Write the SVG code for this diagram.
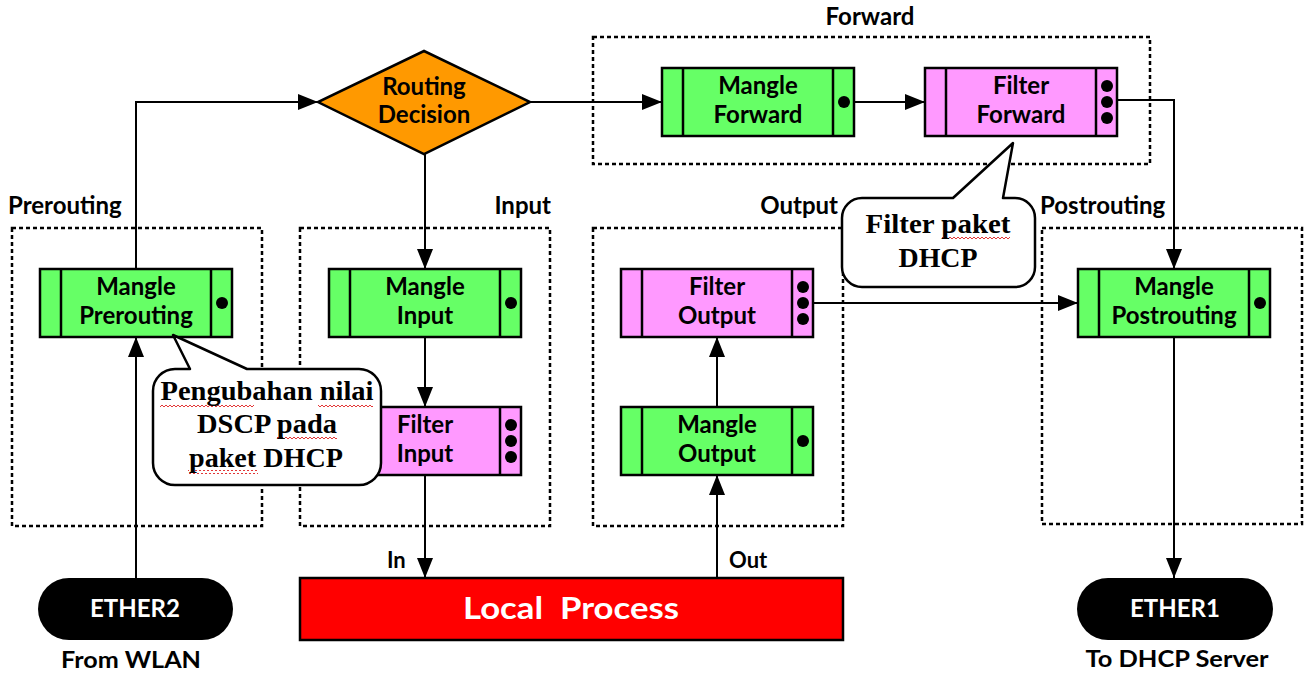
<svg xmlns="http://www.w3.org/2000/svg" width="1306" height="674" viewBox="0 0 1306 674">
  <style>
    .lbl { font-family: Lato, "Open Sans", "Liberation Sans", sans-serif; font-weight: bold; fill: #000; }
    .box-t { font-size: 24px; text-anchor: middle; }
    .sec { font-size: 24px; }
    .chain { stroke: #000; stroke-width: 2.5; }
    .green { fill: #66ff66; }
    .pink { fill: #ff99ff; }
    .inner { stroke: #000; stroke-width: 2.5; }
    .dot { fill: #000; }
    .zone { fill: none; stroke: #000; stroke-width: 2.5; stroke-dasharray: 4 3; }
    .wire { fill: none; stroke: #000; stroke-width: 2; }
    .note { fill: #fff; stroke: #000; stroke-width: 2.5; stroke-linejoin: round; }
    .note-t { font-family: "Liberation Serif", "Times New Roman", serif; font-weight: bold; font-size: 27px; text-anchor: middle; fill: #000; }
    .port { fill: #000; }
    .port-t { font-family: Lato, "Open Sans", "Liberation Sans", sans-serif; font-weight: bold; font-size: 24px; fill: #fff; text-anchor: middle; }
  </style>
  <defs>
    <marker id="arrow" markerUnits="userSpaceOnUse" markerWidth="20" markerHeight="16" refX="20" refY="8" orient="auto">
      <path d="M0,0 L20,8 L0,16 Z" fill="#000"/>
    </marker>
    <pattern id="wave" width="4" height="4" patternUnits="userSpaceOnUse">
      <path d="M0,3 L2,1 L4,3" fill="none" stroke="#e02020" stroke-width="0.9"/>
    </pattern>
  </defs>
  <rect width="1306" height="674" fill="#fff"/>

  <!-- chain zones -->
  <g id="zones">
    <rect class="zone" x="12" y="228" width="250" height="298"/>
    <rect class="zone" x="300" y="228" width="250" height="298"/>
    <rect class="zone" x="593" y="228" width="250" height="298"/>
    <rect class="zone" x="1042" y="228" width="260" height="296"/>
    <rect class="zone" x="593" y="37" width="557" height="127"/>
    <text class="lbl sec" x="870" y="25" text-anchor="middle">Forward</text>
    <text class="lbl sec" x="8" y="214">Prerouting</text>
    <text class="lbl sec" x="551" y="214" text-anchor="end">Input</text>
    <text class="lbl sec" x="838" y="214" text-anchor="end">Output</text>
    <text class="lbl sec" x="1040" y="214">Postrouting</text>
  </g>

  <!-- connectors -->
  <g id="connectors">
    <path class="wire" d="M136,578 L136,337" marker-end="url(#arrow)"/>
    <path class="wire" d="M136,269 L136,102 L318,102" marker-end="url(#arrow)"/>
    <path class="wire" d="M530,102 L662,102" marker-end="url(#arrow)"/>
    <path class="wire" d="M854,102 L925,102" marker-end="url(#arrow)"/>
    <path class="wire" d="M1117,100 L1174,100 L1174,269" marker-end="url(#arrow)"/>
    <path class="wire" d="M425,154 L425,269" marker-end="url(#arrow)"/>
    <path class="wire" d="M425,337 L425,407" marker-end="url(#arrow)"/>
    <path class="wire" d="M425,475 L425,578" marker-end="url(#arrow)"/>
    <path class="wire" d="M717,578 L717,475" marker-end="url(#arrow)"/>
    <path class="wire" d="M717,407 L717,337" marker-end="url(#arrow)"/>
    <path class="wire" d="M813,303 L1078,303" marker-end="url(#arrow)"/>
    <path class="wire" d="M1174,337 L1174,578" marker-end="url(#arrow)"/>
    <text class="lbl" x="387" y="568" font-size="22">In</text>
    <text class="lbl" x="729" y="568" font-size="22">Out</text>
  </g>

  <!-- routing decision -->
  <g id="routing-decision">
    <path d="M424,51 L530,102 L424,154 L318,102 Z" fill="#ff9900" stroke="#000" stroke-width="2.5" stroke-linejoin="miter"/>
    <text class="lbl box-t" x="424" y="95">Routing</text>
    <text class="lbl box-t" x="424" y="123">Decision</text>
  </g>

  <!-- mangle / filter chains -->
  <g id="mangle-prerouting">
    <rect class="chain green" x="40" y="269" width="192" height="68"/>
    <line class="inner" x1="61" y1="269" x2="61" y2="337"/>
    <line class="inner" x1="211" y1="269" x2="211" y2="337"/>
    <circle class="dot" cx="222" cy="303" r="6"/>
    <text class="lbl box-t" x="136" y="295">Mangle</text>
    <text class="lbl box-t" x="136" y="324">Prerouting</text>
  </g>

  <g id="mangle-input">
    <rect class="chain green" x="329" y="269" width="192" height="68"/>
    <line class="inner" x1="350" y1="269" x2="350" y2="337"/>
    <line class="inner" x1="500" y1="269" x2="500" y2="337"/>
    <circle class="dot" cx="511" cy="303" r="6"/>
    <text class="lbl box-t" x="425" y="295">Mangle</text>
    <text class="lbl box-t" x="425" y="324">Input</text>
  </g>

  <g id="filter-input">
    <rect class="chain pink" x="329" y="407" width="192" height="68"/>
    <line class="inner" x1="350" y1="407" x2="350" y2="475"/>
    <line class="inner" x1="500" y1="407" x2="500" y2="475"/>
    <circle class="dot" cx="511" cy="425" r="6"/>
    <circle class="dot" cx="511" cy="441" r="6"/>
    <circle class="dot" cx="511" cy="457" r="6"/>
    <text class="lbl box-t" x="425" y="433">Filter</text>
    <text class="lbl box-t" x="425" y="462">Input</text>
  </g>

  <g id="filter-output">
    <rect class="chain pink" x="621" y="269" width="192" height="68"/>
    <line class="inner" x1="642" y1="269" x2="642" y2="337"/>
    <line class="inner" x1="792" y1="269" x2="792" y2="337"/>
    <circle class="dot" cx="803" cy="287" r="6"/>
    <circle class="dot" cx="803" cy="303" r="6"/>
    <circle class="dot" cx="803" cy="319" r="6"/>
    <text class="lbl box-t" x="717" y="295">Filter</text>
    <text class="lbl box-t" x="717" y="324">Output</text>
  </g>

  <g id="mangle-output">
    <rect class="chain green" x="621" y="407" width="192" height="68"/>
    <line class="inner" x1="642" y1="407" x2="642" y2="475"/>
    <line class="inner" x1="792" y1="407" x2="792" y2="475"/>
    <circle class="dot" cx="803" cy="441" r="6"/>
    <text class="lbl box-t" x="717" y="433">Mangle</text>
    <text class="lbl box-t" x="717" y="462">Output</text>
  </g>

  <g id="mangle-postrouting">
    <rect class="chain green" x="1078" y="269" width="192" height="68"/>
    <line class="inner" x1="1099" y1="269" x2="1099" y2="337"/>
    <line class="inner" x1="1249" y1="269" x2="1249" y2="337"/>
    <circle class="dot" cx="1260" cy="303" r="6"/>
    <text class="lbl box-t" x="1174" y="295">Mangle</text>
    <text class="lbl box-t" x="1174" y="324">Postrouting</text>
  </g>

  <g id="mangle-forward">
    <rect class="chain green" x="662" y="68" width="192" height="68"/>
    <line class="inner" x1="683" y1="68" x2="683" y2="136"/>
    <line class="inner" x1="833" y1="68" x2="833" y2="136"/>
    <circle class="dot" cx="844" cy="102" r="6"/>
    <text class="lbl box-t" x="758" y="94">Mangle</text>
    <text class="lbl box-t" x="758" y="123">Forward</text>
  </g>

  <g id="filter-forward">
    <rect class="chain pink" x="925" y="68" width="192" height="68"/>
    <line class="inner" x1="946" y1="68" x2="946" y2="136"/>
    <line class="inner" x1="1096" y1="68" x2="1096" y2="136"/>
    <circle class="dot" cx="1107" cy="86" r="6"/>
    <circle class="dot" cx="1107" cy="102" r="6"/>
    <circle class="dot" cx="1107" cy="118" r="6"/>
    <text class="lbl box-t" x="1021" y="94">Filter</text>
    <text class="lbl box-t" x="1021" y="123">Forward</text>
  </g>

  <!-- interfaces and local process -->
  <g id="ether2">
    <rect class="port" x="38" y="578" width="195" height="62" rx="31"/>
    <text class="port-t" x="135" y="617">ETHER2</text>
    <text class="lbl" x="131" y="668" font-size="22" text-anchor="middle" textLength="140" lengthAdjust="spacingAndGlyphs">From WLAN</text>
  </g>

  <g id="ether1">
    <rect class="port" x="1077" y="578" width="196" height="62" rx="31"/>
    <text class="port-t" x="1175" y="617">ETHER1</text>
    <text class="lbl" x="1177" y="667" font-size="22" text-anchor="middle" textLength="183" lengthAdjust="spacingAndGlyphs">To DHCP Server</text>
  </g>

  <g id="local-process">
    <rect x="300" y="578" width="543" height="62" fill="#ff0000" stroke="#000" stroke-width="2.5"/>
    <text x="571" y="619" font-family="Lato, 'Open Sans', 'Liberation Sans', sans-serif" font-weight="bold" font-size="30" fill="#fff" text-anchor="middle" textLength="216" lengthAdjust="spacingAndGlyphs" xml:space="preserve">Local  Process</text>
  </g>

  <!-- annotations -->
  <g id="note-dscp">
    <path class="note" d="M190,369 L173,335 L247,369 L359,369 A22,22 0 0 1 381,391 L381,463 A22,22 0 0 1 359,485 L175,485 A22,22 0 0 1 153,463 L153,391 A22,22 0 0 1 175,369 Z"/>
    <rect x="160" y="403" width="94" height="4" fill="url(#wave)"/>
    <rect x="318" y="403" width="55" height="4" fill="url(#wave)"/>
    <rect x="277" y="436" width="60" height="4" fill="url(#wave)"/>
    <rect x="188" y="470" width="70" height="4" fill="url(#wave)"/>
    <text class="note-t" x="267" y="400" textLength="213" lengthAdjust="spacingAndGlyphs">Pengubahan nilai</text>
    <text class="note-t" x="267" y="433" textLength="140" lengthAdjust="spacingAndGlyphs">DSCP pada</text>
    <text class="note-t" x="266" y="467" textLength="154" lengthAdjust="spacingAndGlyphs">paket DHCP</text>
  </g>

  <g id="note-dhcp">
    <path class="note" d="M953,198 L1013,143 L1003,198 L1015,198 A20,20 0 0 1 1035,218 L1035,267 A20,20 0 0 1 1015,287 L862,287 A20,20 0 0 1 842,267 L842,218 A20,20 0 0 1 862,198 Z"/>
    <rect x="942" y="236" width="68" height="4" fill="url(#wave)"/>
    <text class="note-t" x="938" y="233" textLength="145" lengthAdjust="spacingAndGlyphs">Filter paket</text>
    <text class="note-t" x="938" y="267" textLength="79" lengthAdjust="spacingAndGlyphs">DHCP</text>
  </g>
</svg>
